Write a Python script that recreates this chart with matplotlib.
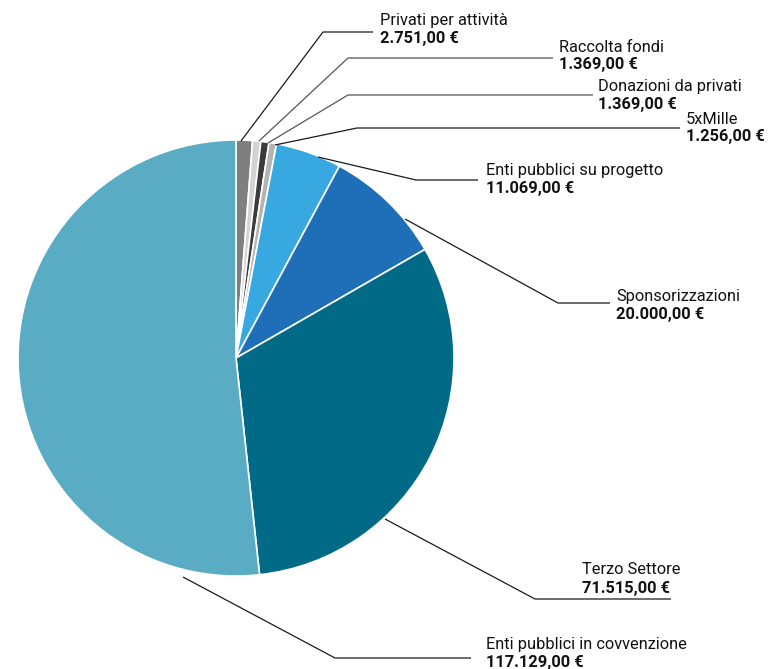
import matplotlib.pyplot as plt

# dati
categorie = ['Privati per attività', 'Raccolta fondi', 'Donazioni da privati', '5xMille',
             'Enti pubblici su progetto', 'Sponsorizzazioni', 'Terzo Settore',
             'Enti pubblici in covvenzione']
valori = [2751, 1369, 1369, 1256, 11069, 20000, 71515, 117129]
etichette_valori = ['2.751,00 €', '1.369,00 €', '1.369,00 €', '1.256,00 €',
                    '11.069,00 €', '20.000,00 €', '71.515,00 €', '117.129,00 €']

colori = ['#7f7f7f', '#d3d3d3', '#3c3c3c', '#b4b4b4',
          '#38a8e0', '#1f6fb8', '#006a87', '#5aabc4']

# layout etichette (pixel): inizio linea, gomito, fine linea, posizione testo, colore linea
linee = [
    ((241, 141), (323, 32), (373, 32), (380, 21), '#1a1a1a'),
    ((259, 141), (348, 58), (553, 58), (559, 47), '#555555'),
    ((268, 143), (348, 95), (593, 95), (598, 86), '#555555'),
    ((275, 145), (357, 128), (680, 128), (686, 119), '#1a1a1a'),
    ((318, 157), (416, 180), (478, 180), (486, 170), '#1a1a1a'),
    ((405, 219), (558, 303), (610, 303), (616, 296), '#1a1a1a'),
    ((385, 519), (535, 599), (671, 599), (582, 570), '#1a1a1a'),
    ((183, 577), (335, 658), (471, 658), (486, 644), '#1a1a1a'),
]

W, H = 769, 669
fig = plt.figure(figsize=(W / 100, H / 100), dpi=100)
ax = fig.add_axes([0, 0, 1, 1])

cx, cy, r = 236, 358, 218
ax.pie(valori, colors=colori, startangle=90, counterclock=False,
       center=(cx, H - cy), radius=r, frame=True,
       wedgeprops=dict(edgecolor='white', linewidth=1.2))
ax.set_xlim(0, W)
ax.set_ylim(0, H)
ax.axis('off')

font = 'Roboto'
for i, (p0, p1, p2, pt, c) in enumerate(linee):
    xs = [p0[0], p1[0], p2[0]]
    ys = [H - p0[1], H - p1[1], H - p2[1]]
    ax.plot(xs, ys, color=c, lw=0.9, solid_capstyle='butt')
    ax.text(pt[0], H - pt[1], categorie[i], fontsize=11.8, family=font,
            va='center', ha='left', color='#111111')
    ax.text(pt[0], H - pt[1] - 18, etichette_valori[i], fontsize=11.8, family=font,
            fontweight='bold', va='center', ha='left', color='#111111')

fig.savefig('out.png', dpi=100)
